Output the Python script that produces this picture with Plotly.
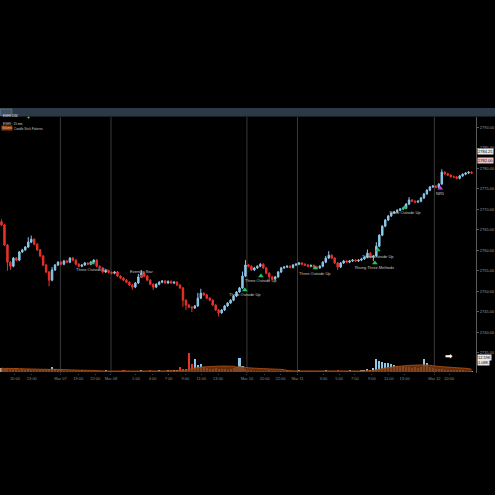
import plotly.graph_objects as go
import pandas as pd

# ---------------- data ----------------
closes = [
    2766.2, 2761.3, 2757.1, 2756.1, 2758.1, 2757.6, 2759.6, 2760.1, 2760.8, 2762.0,
    2762.7, 2761.5, 2760.1, 2758.6, 2756.4, 2754.7, 2752.7, 2755.2, 2756.4, 2757.1,
    2756.6, 2757.4, 2757.1, 2758.1, 2757.6, 2756.6, 2756.1, 2756.4, 2756.9, 2756.6,
    2757.1, 2757.6, 2756.1, 2755.7, 2754.7, 2755.0, 2754.6, 2754.4, 2754.7, 2753.7,
    2753.2, 2752.7, 2752.2, 2751.5, 2751.0, 2752.0, 2753.5, 2754.4, 2753.7, 2752.7,
    2751.7, 2751.0, 2751.7, 2752.2, 2752.5, 2752.0, 2752.4, 2752.0, 2752.2, 2751.5,
    2750.8, 2747.8, 2746.6, 2746.1, 2745.9, 2746.4, 2748.3, 2749.5, 2749.1, 2748.3,
    2747.8, 2746.6, 2745.4, 2744.7, 2745.4, 2746.4, 2747.1, 2747.8, 2748.8, 2749.8,
    2750.8, 2753.7, 2756.4, 2756.1, 2755.2, 2755.7, 2756.1, 2756.6, 2755.7, 2754.4,
    2753.5, 2753.0, 2753.5, 2754.7, 2755.7, 2755.9, 2756.1, 2755.8, 2756.4, 2756.6,
    2756.9, 2756.6, 2756.4, 2756.1, 2756.3, 2755.9, 2755.7, 2756.1, 2757.1, 2758.1,
    2758.8, 2758.1, 2756.9, 2755.9, 2756.9, 2757.4, 2757.1, 2757.4, 2757.6, 2757.4,
    2757.6, 2757.9, 2758.3, 2759.3, 2758.3, 2758.6, 2761.0, 2763.7, 2765.9, 2767.4,
    2768.4, 2769.1, 2769.4, 2769.8, 2770.1, 2770.3, 2771.3, 2772.3, 2772.0, 2771.8,
    2772.0, 2772.8, 2773.8, 2774.7, 2775.5, 2775.7, 2775.4, 2776.2, 2779.1, 2778.7,
    2778.4, 2778.0, 2777.9, 2777.6, 2778.2, 2778.6, 2778.9, 2779.1, 2778.9,
]
first_open = 2767.0

# explicit longer wicks (index: value)
high_wicks = {0: 2767.6, 9: 2763.2, 10: 2763.6, 17: 2755.9, 46: 2754.2, 47: 2755.2,
              66: 2749.6, 67: 2750.6, 81: 2754.8, 82: 2757.6, 109: 2758.6, 110: 2759.8,
              123: 2760.2, 126: 2762.0, 137: 2773.0, 148: 2779.8}
low_wicks = {2: 2755.0, 3: 2755.2, 16: 2751.2, 44: 2750.4, 51: 2750.3, 61: 2746.2,
             62: 2745.4, 64: 2744.9, 73: 2743.8, 80: 2749.6, 90: 2752.6, 113: 2755.2,
             125: 2757.4}

volume = [
    4, 3, 4, 3, 3, 4, 2, 3, 2, 3, 2, 2, 2, 1.5, 2, 2, 3, 5, 3, 2,
    1.2, 1, 0.8, 1, 1, 0.8, 1, 1.2, 1, 0.8, 1, 1, 0.8, 1, 1, 1.2, 1, 0.8, 1, 1,
    1, 1.2, 1, 1, 0.8, 1, 1, 1.2, 1, 1, 1.5, 1, 1, 1.2, 1, 1, 1.5, 1.2, 1.5, 2,
    5, 3.5, 3, 19, 8, 13, 7, 8, 5, 4, 3.5, 3, 4, 3, 3, 3, 2.5, 3, 4, 5, 14, 6, 3, 2,
    1.2, 1, 1, 0.8, 1, 1, 1.2, 1, 0.8, 1, 1, 1, 1.2, 1, 1, 1, 1.5, 1, 1, 1,
    0.8, 1, 1, 1, 1, 1.2, 1, 1, 1, 1.5, 1, 1, 1, 1.2, 1, 1, 1, 1.2, 1.5,
    3, 2, 4, 13, 11, 10, 9.5, 9, 8, 7, 6, 5, 6, 5, 5, 4, 5, 4, 5, 13,
    9, 5, 4, 3, 3, 3, 2.5, 2, 2, 2, 1.5, 1.5, 1.5, 1, 1, 1,
]

x_tick_pos = [4.5, 10.2, 19.8, 25.8, 31.5, 36.8, 45.2, 50.8, 56.2, 61.8, 67.2, 72.8,
              82.5, 88.5, 93.8, 99.5, 108.2, 113.5, 118.8, 124.5, 130.2, 135.5, 145.5, 150.5]
x_tick_text = ["10:00", "13:00", "Mar 07", "19:00", "22:00", "Mar 08", "1:00", "4:00",
               "7:00", "9:00", "11:00", "13:00", "Mar 10", "20:00", "22:00", "Mar 11",
               "3:00", "5:00", "7:00", "9:00", "11:00", "13:00", "Mar 12", "20:00"]
session_breaks = [19.8, 36.8, 82.5, 99.5, 145.5]

y_ticks = [2790, 2785, 2780, 2775, 2770, 2765, 2760, 2755, 2750, 2745, 2740, 2735]

pattern_names = ["Three Outside Up", "Evening Star", "Three Outside Up", "Three Outside Up",
                 "Three Outside Up", "Three Outside Up", "Rising Three Methods",
                 "Three Outside Up", "NR5"]
pattern_x = [30.5, 47.2, 81.8, 87.2, 105.5, 126.5, 125.5, 135.5, 147.5]
pattern_label_y = [2755.4, 2754.9, 2749.1, 2752.5, 2754.4, 2758.6, 2755.7, 2769.3, 2774.0]
pattern_mark_y = [2756.9, 2753.7, 2750.3, 2753.7, 2755.7, 2760.1, 2756.9, 2770.5, 2775.2]
pattern_kind = ["bull", "bear", "bull", "bull", "bull", "bull", "bull", "bull", "nr"]

# ---------------- derived OHLC ----------------
n = len(closes)
idx = list(range(n))
opens = [first_open] + closes[:-1]
highs = [high_wicks.get(i, max(o, c) + 0.25) for i, (o, c) in enumerate(zip(opens, closes))]
lows = [low_wicks.get(i, min(o, c) - 0.25) for i, (o, c) in enumerate(zip(opens, closes))]

UP = "#8cc8ea"
DN = "#e8322b"
TAN = "#b3a894"

vol_colors = [UP if c >= o else DN for o, c in zip(opens, closes)]
vol_ma = pd.Series(volume).rolling(16, min_periods=1).mean()
vol_base = [min(v, m * 0.9) for v, m in zip(volume, vol_ma)]

fig = go.Figure()

# volume
fig.add_trace(go.Scatter(x=idx, y=vol_ma, yaxis="y2", mode="lines",
                         line=dict(color="#a04a14", width=1, shape="spline"),
                         fill="tozeroy", fillcolor="rgba(120,52,14,0.85)", hoverinfo="skip"))
fig.add_trace(go.Bar(x=idx, y=volume, yaxis="y2", marker=dict(color=vol_colors, line=dict(width=0)),
                     width=0.7, hoverinfo="skip"))
fig.add_trace(go.Bar(x=idx, y=vol_base, yaxis="y2", marker=dict(color=TAN, line=dict(width=0)),
                     width=0.7, opacity=0.9, hoverinfo="skip"))

# price
fig.add_trace(go.Candlestick(
    x=idx, open=opens, high=highs, low=lows, close=closes,
    increasing=dict(line=dict(color=UP, width=1), fillcolor=UP),
    decreasing=dict(line=dict(color=DN, width=1), fillcolor=DN),
    whiskerwidth=0, hoverinfo="skip"))

# pattern markers
col_map = {"bull": "#22c55e", "bear": "#e0302a", "nr": "#b04ad8"}
sym_map = {"bull": "triangle-up", "bear": "triangle-down", "nr": "triangle-up"}
fig.add_trace(go.Scatter(
    x=pattern_x, y=pattern_mark_y, mode="markers",
    marker=dict(symbol=[sym_map[k] for k in pattern_kind],
                color=[col_map[k] for k in pattern_kind], size=5),
    hoverinfo="skip"))
for name, px_, py_ in zip(pattern_names, pattern_x, pattern_label_y):
    fig.add_annotation(x=px_, y=py_, text=name, showarrow=False,
                       font=dict(size=4, color="#c8c8c8", family="Liberation Sans"))

# session separators
for b in session_breaks:
    fig.add_shape(type="line", x0=b, x1=b, y0=0, y1=1, xref="x", yref="paper",
                  line=dict(color="#3a3a3a", width=1), layer="below")

# header bar (paper coordinates: plot area spans px 0..480, y 117..373)
def px_x(p):
    return p / 480.0

def px_y(p):
    return (373.0 - p) / 256.0

fig.add_shape(type="rect", xref="paper", yref="paper", x0=px_x(-5), x1=px_x(505),
              y0=px_y(116.5), y1=px_y(108), fillcolor="#2c3a48", line=dict(width=0))
fig.add_shape(type="rect", xref="paper", yref="paper", x0=px_x(0.5), x1=px_x(12),
              y0=px_y(115.5), y1=px_y(109), fillcolor="#3e5266", line=dict(color="#7a8a9a", width=0.5))
fig.add_annotation(xref="paper", yref="paper", x=px_x(1), y=px_y(112.3), xanchor="left",
                   text="ESH9 15M", showarrow=False, font=dict(size=3, color="#e0e0e0"))
fig.add_annotation(xref="paper", yref="paper", x=px_x(25), y=px_y(112.3),
                   text="+", showarrow=False, font=dict(size=5, color="#d0d0d0"))
fig.add_annotation(xref="paper", yref="paper", x=px_x(1), y=px_y(119.5), xanchor="left",
                   text="ESH9 · 15 min", showarrow=False, font=dict(size=3, color="#d8d8d8"))
fig.add_annotation(xref="paper", yref="paper", x=px_x(1), y=px_y(124.5), xanchor="left",
                   text="Volume", showarrow=False, bgcolor="#8a3c10",
                   font=dict(size=3, color="#f0c090"), borderpad=0)
fig.add_annotation(xref="paper", yref="paper", x=px_x(12), y=px_y(124.5), xanchor="left",
                   text="Candle Stick Patterns", showarrow=False,
                   font=dict(size=3, color="#c8c8c8"))

# right-side highlighted labels
fig.add_annotation(xref="paper", yref="paper", x=px_x(481), y=px_y(147.7), xanchor="left",
                   text="2784.25", showarrow=False, bgcolor="#e8e8e8",
                   font=dict(size=4, color="#000000"), borderpad=0)
fig.add_annotation(xref="paper", yref="paper", x=px_x(481), y=px_y(157.3), xanchor="left",
                   text="2782.00", showarrow=False, bgcolor="#f2c4c4",
                   font=dict(size=4, color="#000000"), borderpad=0)
fig.add_annotation(xref="paper", yref="paper", x=px_x(481), y=px_y(360.8), xanchor="left",
                   text="12.59K", showarrow=False, bgcolor="#e8e8e8",
                   font=dict(size=4, color="#000000"), borderpad=0)
fig.add_annotation(xref="paper", yref="paper", x=px_x(481), y=px_y(365.5), xanchor="left",
                   text="1.08K", showarrow=False, bgcolor="#e8e8e8",
                   font=dict(size=4, color="#000000"), borderpad=0)
fig.add_annotation(xref="paper", yref="paper", x=px_x(459), y=px_y(363), text="➡",
                   showarrow=False, font=dict(size=9, color="#ffffff"))

fig.update_layout(
    width=495, height=495,
    paper_bgcolor="#000000", plot_bgcolor="#000000",
    margin=dict(l=0, r=15, t=117, b=122),
    showlegend=False, barmode="overlay", bargap=0,
    font=dict(family="Liberation Sans", color="#9a9a9a"),
    xaxis=dict(range=[-0.5, n + 0.5], rangeslider=dict(visible=False), showgrid=False,
               zeroline=False, showline=False, tickmode="array", tickvals=x_tick_pos,
               ticktext=x_tick_text, tickfont=dict(size=4, color="#8a8a8a"),
               ticks="outside", ticklen=1, tickcolor="#444"),
    yaxis=dict(range=[2730.0, 2792.6], side="right", showgrid=False, zeroline=False,
               showline=True, linecolor="#5a5a5a", linewidth=1, tickmode="array",
               tickvals=y_ticks, tickformat=".2f", tickfont=dict(size=4, color="#9a9a9a"),
               ticks="outside", ticklen=2, tickcolor="#5a5a5a"),
    yaxis2=dict(range=[-1, 255], overlaying="y", visible=False, showgrid=False),
)

fig.write_html("out.html", config={"displayModeBar": False},
               post_script="document.body.style.margin='0';document.body.style.background='#000';")
